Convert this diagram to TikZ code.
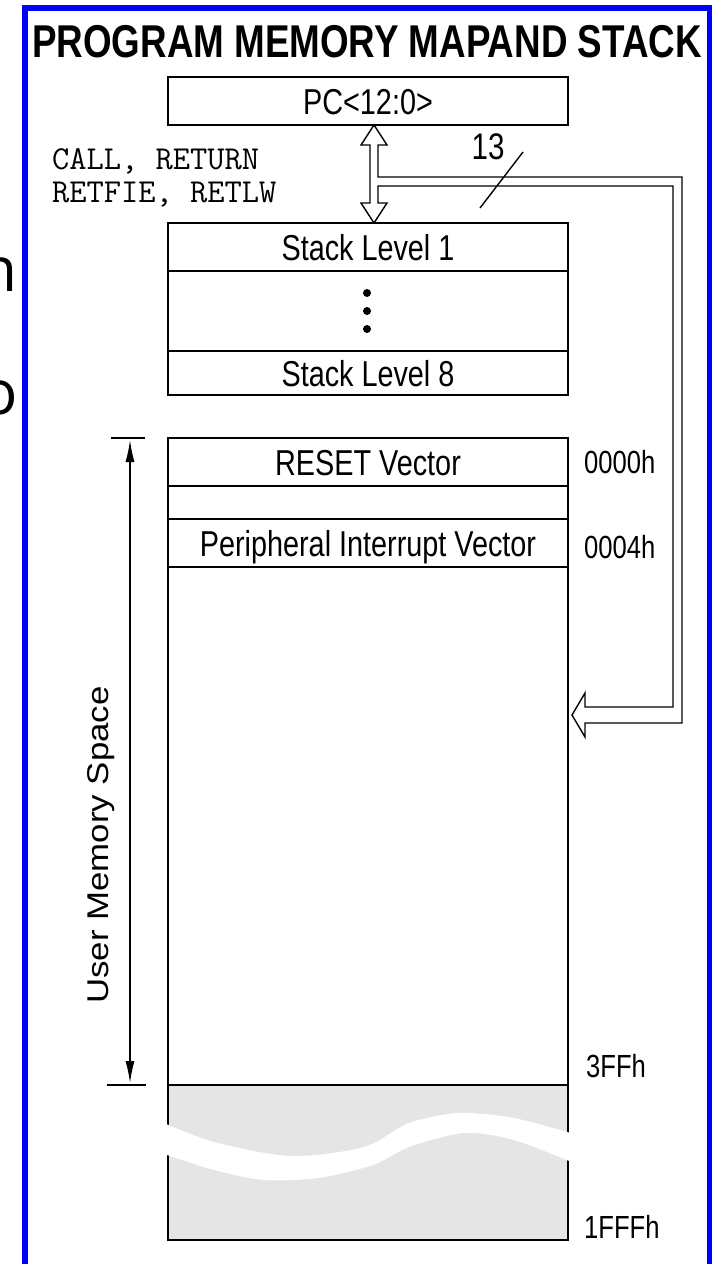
\documentclass[tikz,border=0pt]{standalone}
\usepackage{fontspec}
\setmainfont{Liberation Sans}
\newfontfamily\narrowsf[FakeStretch=0.8]{Liberation Sans}
\newfontfamily\widesf[FakeStretch=1.16]{Liberation Sans}
\newfontfamily\slidesf{Open Sans}
\definecolor{frameblue}{RGB}{0, 0, 255}
\definecolor{romgray}{RGB}{229, 229, 229}
\usetikzlibrary{positioning, arrows.meta, calc}

\begin{document}
\begin{tikzpicture}[
    x=1pt, y=-1pt,
    row/.style={
      draw, line width=1.6pt, minimum width=400pt,
      inner sep=0pt, outer sep=0pt,
      text height=27pt, text depth=0pt,
      font=\narrowsf\fontsize{36}{40}\selectfont
    },
    addr/.style={
      anchor=base west, inner sep=0pt,
      font=\narrowsf\fontsize{32}{36}\selectfont
    },
    bus/.style={line width=1.4pt, line join=miter},
    dimline/.style={line width=1.4pt, >={Latex[length=22pt, width=9pt]}, <->}
  ]
    \useasboundingbox (0,0) rectangle (712,1264);
    \clip (0,0) rectangle (712,1264);

    % page frame and cut-off slide text
    \draw[frameblue, line width=6pt] (25,1280) -- (25,8) -- (710,8) -- (710,1280);
    \node[anchor=base east, inner sep=0pt, font=\slidesf\fontsize{62}{70}\selectfont] (cutn) at (18,291) {n};
    \node[anchor=base east, inner sep=0pt, font=\slidesf\fontsize{62}{70}\selectfont] (cuto) at (18,414) {o};

    \node[anchor=base, inner sep=0pt, font=\narrowsf\bfseries\fontsize{46}{50}\selectfont]
      (title) at (367,57) {PROGRAM MEMORY MAPAND STACK};

    % program counter and stack
    \node[row, minimum height=48pt] (pc) at (368,101) {PC<12:0>};
    \node[row, minimum height=48pt] (stk1) at (368,247) {Stack Level 1};
    \node[row, minimum height=80pt] (stkdots) [below=0pt of stk1] {};
    \node[row, minimum height=44pt] (stk8) [below=0pt of stkdots] {Stack Level 8};
    \foreach \dy in {-18,0,18}
      \fill ($(stkdots.center)+(-1,\dy)$) circle (4pt);

    % memory map
    \node[row, minimum height=48pt] (rst) at (368,462) {RESET Vector};
    \node[row, minimum height=33pt] (blank) [below=0pt of rst] {};
    \node[row, minimum height=48pt] (piv) [below=0pt of blank] {Peripheral Interrupt Vector};
    \node[row, minimum height=518pt] (user) [below=0pt of piv] {};
    \node[row, minimum height=155pt, fill=romgray] (ext) [below=0pt of user] {};
    \fill[white] plot[smooth] coordinates {(164,1123) (214,1142) (291,1156) (364,1147)
        (409,1123) (459,1113) (514,1118) (574,1134)}
      -- plot[smooth] coordinates {(574,1163) (514,1140) (464,1133) (409,1147)
        (373,1165) (318,1178) (264,1180) (214,1170) (164,1154)} -- cycle;

    \node[addr] (a0000) at (584,473) {0000h};
    \node[addr] (a0004) at (584,558) {0004h};
    \node[addr] (a03ff) at (586,1077) {3FFh};
    \node[addr] (a1fff) at (584,1238) {1FFFh};

    % return address bus
    \coordinate (tipT) at ($(pc.south)+(6,0)$);
    \coordinate (tipB) at ($(stk1.north)+(6,0)$);
    \coordinate (tipR) at ($(user.north east)+(4,148)$);
    \draw[bus] (tipT) -- ++(13,20) -- ++(-9,0) |- (682,177) |- (585,723)
      -- ++(0,14) -- (tipR) -- ++(13,-22) -- ++(0,14) -| (673,186) -- (378,186)
      -- ++(0,17) -- ++(9,0) -- (tipB) -- ++(-13,-20) -- ++(9,0) -- ++(0,-58)
      -- ++(-9,0) -- cycle;
    \draw[line width=1.4pt] (480,208) -- (523,152);
    \node[inner sep=0pt, font=\narrowsf\fontsize{37}{40}\selectfont] (bits) at (488,147) {13};

    \node[anchor=north west, inner sep=0pt, align=left, font=\ttfamily\fontsize{33.5}{33}\selectfont]
      (ops) at (52,148) {CALL, RETURN\\RETFIE, RETLW};

    % user memory span
    \coordinate (dimT) at (130,440);
    \coordinate (dimB) at (130,1083);
    \draw[line width=1.4pt] (111,438) -- (145,438);
    \draw[line width=1.4pt] (107,1085) -- (146,1085);
    \draw[dimline] (dimT) -- (dimB);
    \node[rotate=90, inner sep=0pt, font=\widesf\fontsize{30}{36}\selectfont] (ums) at (101,845) {User Memory Space};
  \end{tikzpicture}
\end{document}
